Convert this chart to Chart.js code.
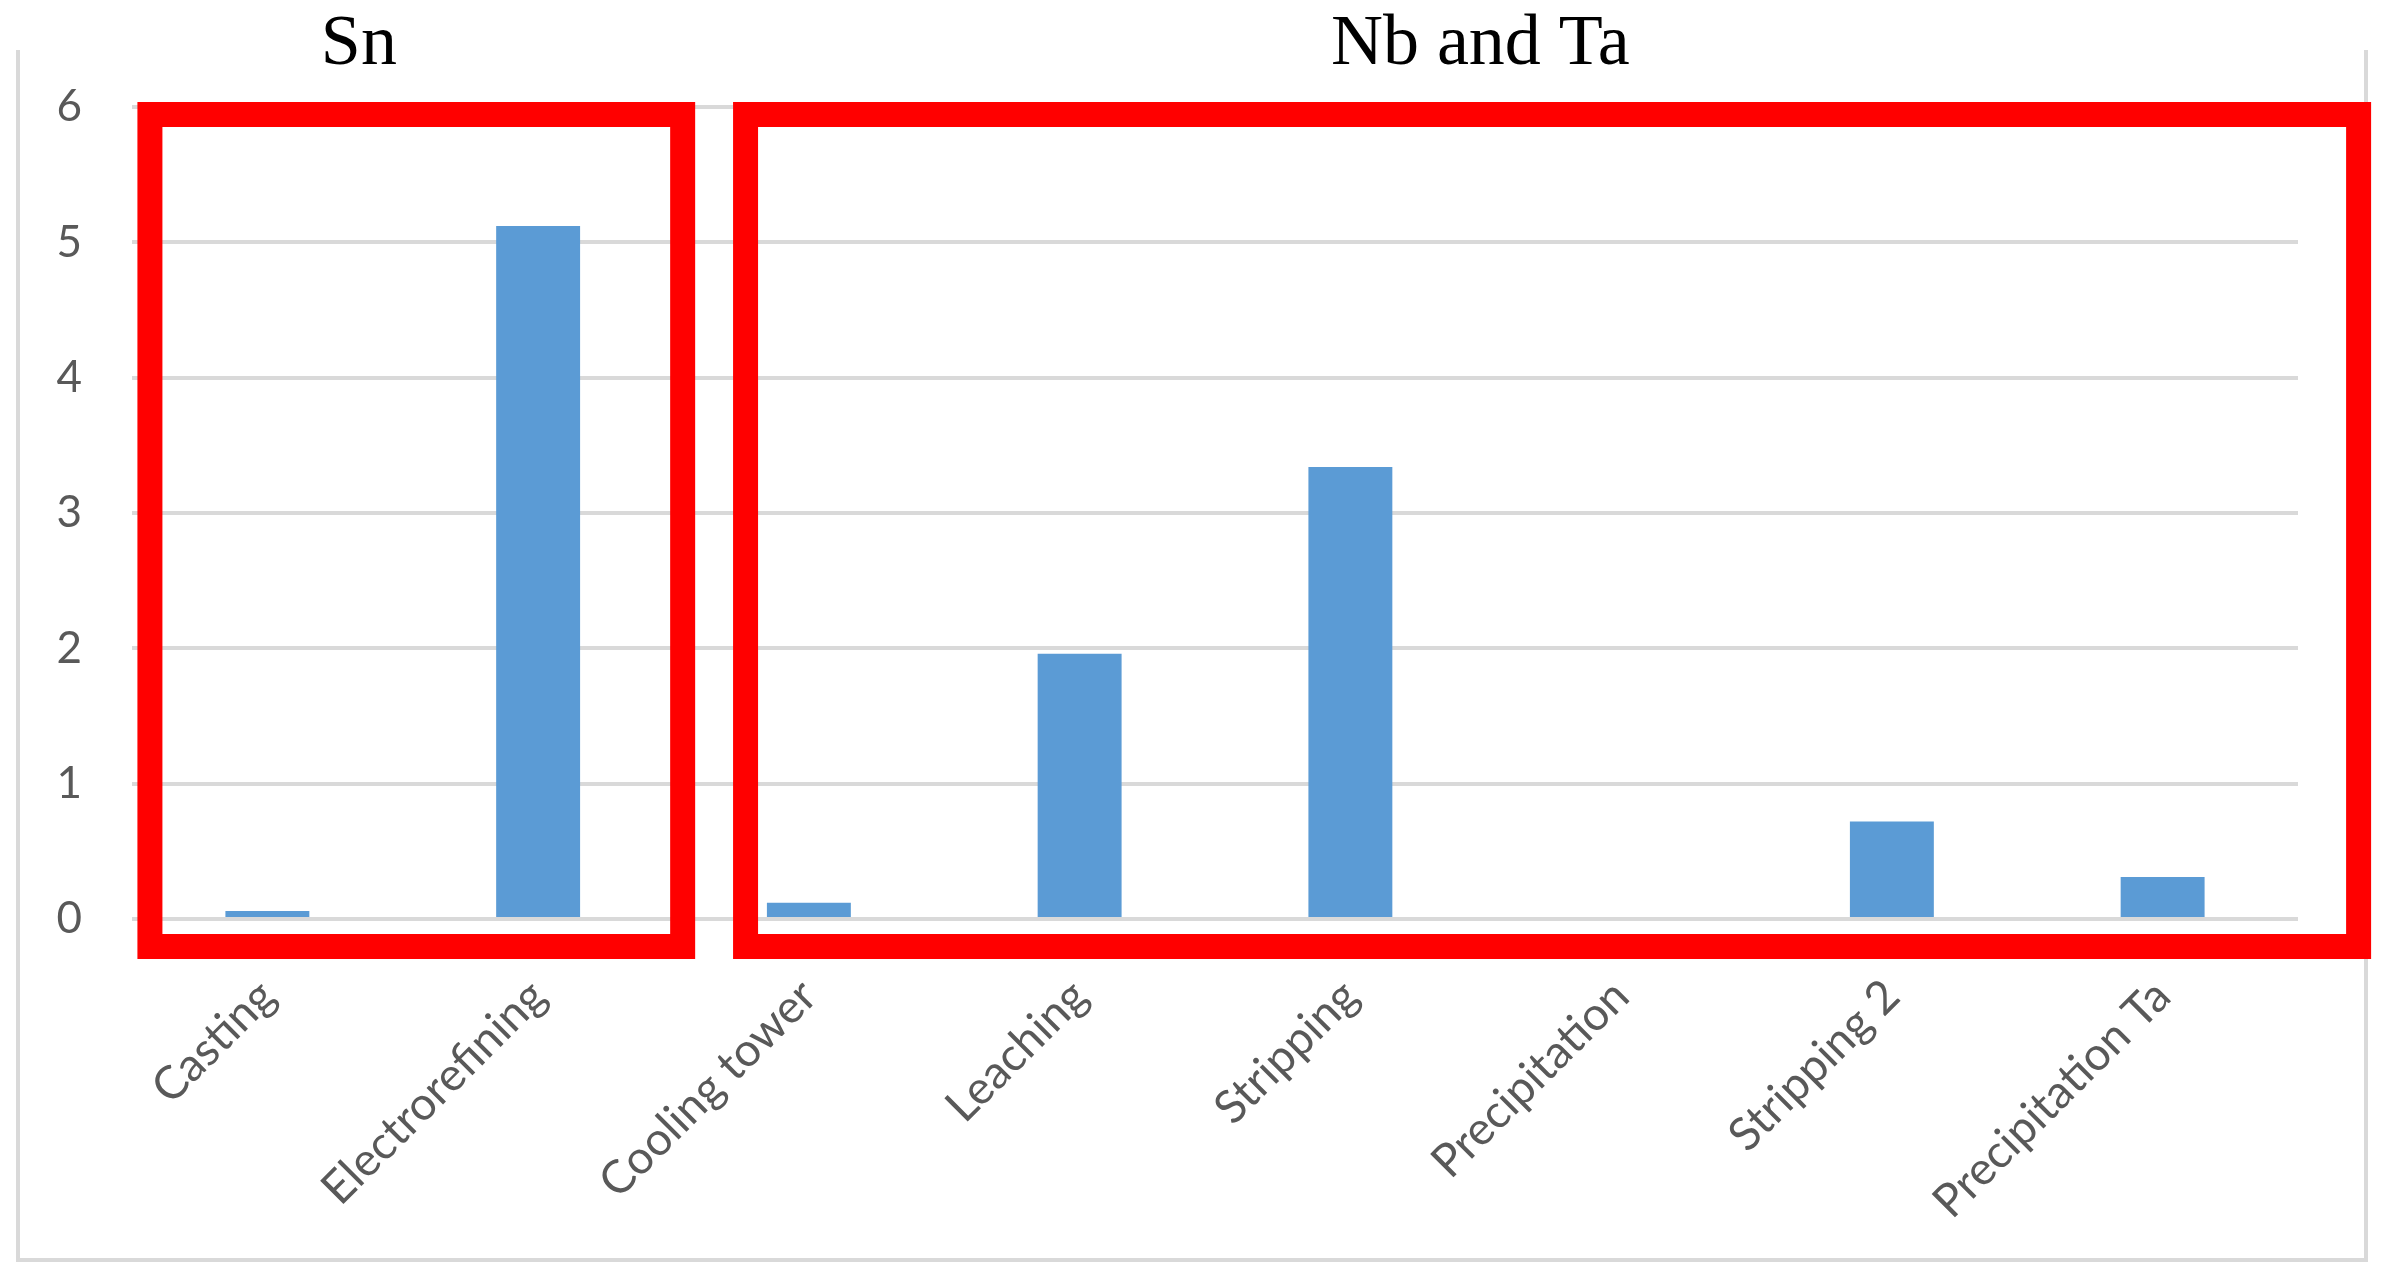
<!DOCTYPE html>
<html>
<head>
<meta charset="utf-8">
<script src="https://cdn.jsdelivr.net/npm/chart.js@4"></script>
<style>
  html, body { margin: 0; padding: 0; background: #fff; }
  #wrap { position: relative; width: 2394px; height: 1286px; }
  #frame {
    position: absolute; left: 16px; top: 50px; width: 2344px; height: 1208px;
    border: 4px solid #d9d9d9; border-top: none;
  }
  #chart { position: absolute; left: 0; top: 0; }
</style>
</head>
<body>
<div id="wrap">
  <div id="frame"></div>
  <canvas id="chart" width="2394" height="1286"></canvas>
</div>
<script>
(function () {
    const categories = ['Casting', 'Electrorefining', 'Cooling tower', 'Leaching', 'Stripping', 'Precipitation', 'Stripping 2', 'Precipitation Ta']
    const values = [0.06, 5.12, 0.12, 1.96, 3.34, 0, 0.72, 0.31]
    const yTicks = [0, 1, 2, 3, 4, 5, 6]
    const groupNames = ['Sn', 'Nb and Ta']

    // red group boxes, in category-index units on the x axis
    const boxSpans = [[-0.48, 1.58], [1.72, 7.77]]
    const titleAt = [0.338, 4.48]

    const groupBoxes = {
        id: 'groupBoxes',
        afterDraw(chart) {
            const ctx = chart.ctx
            const x = chart.scales.x
            const y = chart.scales.y
            const lw = 25
            const top = y.getPixelForValue(6) - 5
            const bottom = y.getPixelForValue(0) + 40
            ctx.save()
            ctx.strokeStyle = '#ff0000'
            ctx.lineWidth = lw
            ctx.lineJoin = 'miter'
            boxSpans.forEach(span => {
                const l = x.getPixelForValue(span[0])
                const r = x.getPixelForValue(span[1])
                ctx.strokeRect(l + lw / 2, top + lw / 2, r - l - lw, bottom - top - lw)
            })
            ctx.fillStyle = '#000'
            ctx.font = '72px "Liberation Serif"'
            ctx.textAlign = 'center'
            ctx.textBaseline = 'alphabetic'
            groupNames.forEach((name, i) => {
                ctx.fillText(name, x.getPixelForValue(titleAt[i]), top - 38)
            })
            ctx.restore()
        }
    }

    new Chart(
        document.getElementById('chart'),
        {
            type: 'bar',
            data: {
                labels: categories,
                datasets: [{
                    data: values,
                    backgroundColor: '#5b9bd5',
                    categoryPercentage: 1,
                    barPercentage: 0.31
                }]
            },
            options: {
                responsive: false,
                animation: false,
                layout: { padding: { top: 107, right: 96, bottom: 0, left: 0 } },
                plugins: {
                    legend: { display: false },
                    tooltip: { enabled: false }
                },
                scales: {
                    x: {
                        grid: { display: false, drawTicks: false },
                        border: { display: false },
                        ticks: {
                            minRotation: 45,
                            maxRotation: 45,
                            autoSkip: false,
                            color: '#595959',
                            padding: 50,
                            font: { family: 'Lato', size: 46 }
                        },
                        afterFit: scale => { scale.height = 367 }
                    },
                    y: {
                        min: 0,
                        max: 6,
                        afterBuildTicks: scale => { scale.ticks = yTicks.map(v => ({ value: v })) },
                        grid: { color: '#d9d9d9', lineWidth: 4, drawTicks: false },
                        border: { display: false },
                        ticks: {
                            color: '#595959',
                            padding: 50,
                            font: { family: 'Lato', size: 44 }
                        },
                        afterFit: scale => { scale.width = 132 }
                    }
                }
            },
            plugins: [groupBoxes]
        }
    )
})();
</script>
</body>
</html>
